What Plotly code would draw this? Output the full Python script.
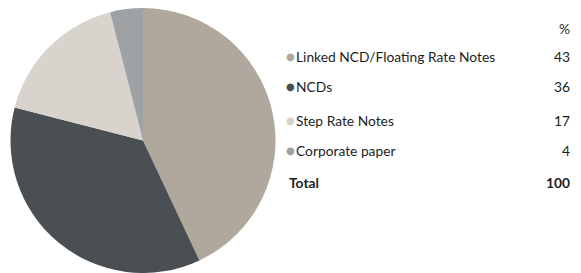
import plotly.graph_objects as go

categories = ["Linked NCD/Floating Rate Notes", "NCDs", "Step Rate Notes", "Corporate paper"]
values = [43, 36, 17, 4]
colors = ["#B0A89C", "#4A4F54", "#D8D3CC", "#9EA2A5"]
total_label = "Total"
total_value = 100
unit_label = "%"

OFF = 8  # page body margin
W, H = 565, 265
def xp(px):
    return (px - OFF) / W
def yp(py):
    return 1 - (py - OFF) / H

fig = go.Figure()
fig.add_trace(go.Pie(
    labels=categories, values=values, sort=False, direction="clockwise", rotation=0,
    marker=dict(colors=colors, line=dict(width=0)),
    textinfo="none", hoverinfo="label+percent", showlegend=False,
    domain=dict(x=[xp(10), xp(276)], y=[0, 1]),
))

font = "Lato, Carlito, sans-serif"
fs = 13.8
txtc = "#1e1e1e"
RX = 572
ann = []
row_y = [57, 87, 120, 150]
ann.append(dict(x=xp(RX), y=yp(29), text=unit_label, xanchor="right", yanchor="middle",
                font=dict(family=font, size=fs, color=txtc)))
for c, v, col, ry in zip(categories, values, colors, row_y):
    ann.append(dict(x=xp(284), y=yp(ry), text="●", xanchor="left", yanchor="middle",
                    font=dict(family="DejaVu Sans", size=10, color=col)))
    ann.append(dict(x=xp(294), y=yp(ry), text=c, xanchor="left", yanchor="middle",
                    font=dict(family=font, size=fs, color=txtc)))
    ann.append(dict(x=xp(RX), y=yp(ry), text=str(v), xanchor="right", yanchor="middle",
                    font=dict(family=font, size=fs, color=txtc)))
ann.append(dict(x=xp(287), y=yp(182), text=f"<b>{total_label}</b>", xanchor="left", yanchor="middle",
                font=dict(family=font, size=fs, color=txtc)))
ann.append(dict(x=xp(RX), y=yp(182), text=f"<b>{total_value}</b>", xanchor="right", yanchor="middle",
                font=dict(family=font, size=fs, color=txtc)))
for a in ann:
    a["xref"] = "paper"; a["yref"] = "paper"; a["showarrow"] = False
fig.update_layout(width=W, height=H, margin=dict(l=0, r=0, t=0, b=0),
                  paper_bgcolor="white", plot_bgcolor="white", annotations=ann)
fig.write_html("out.html")
